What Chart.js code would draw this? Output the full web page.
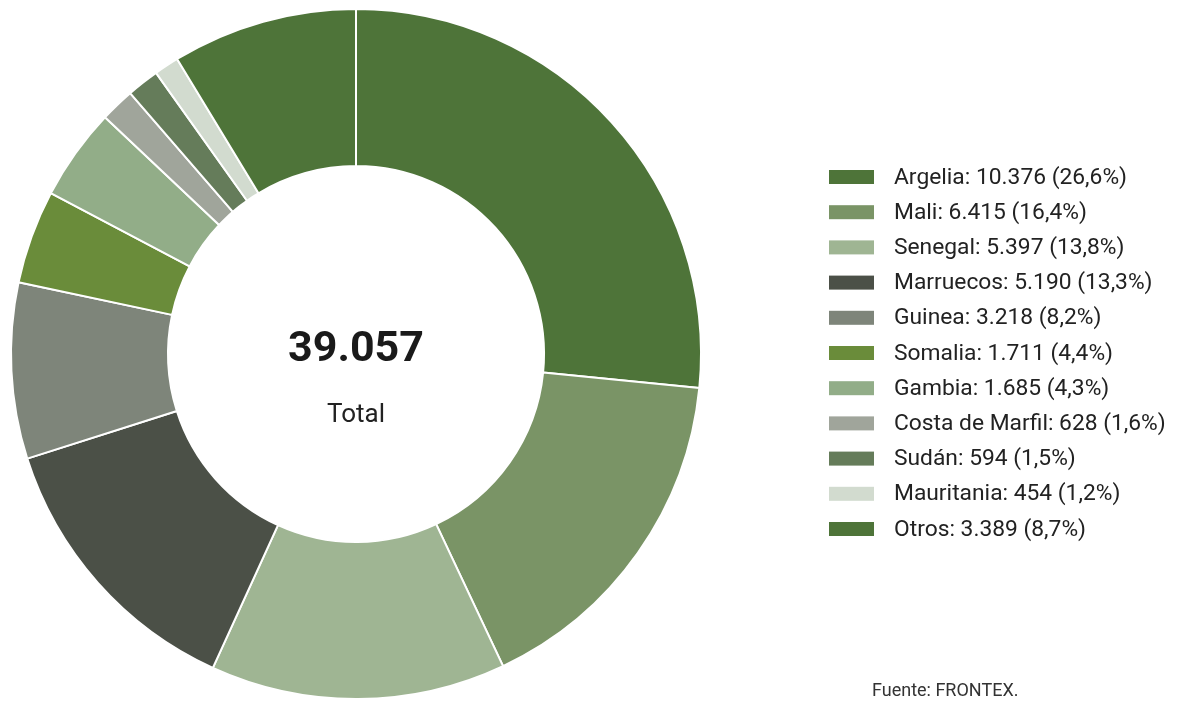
<!DOCTYPE html>
<html lang="es">
<head>
<meta charset="utf-8">
<title>Nacionalidades - FRONTEX</title>
<script src="https://cdn.jsdelivr.net/npm/chart.js@4.4.1/dist/chart.umd.min.js"></script>
<style>
  html, body { margin: 0; padding: 0; background: #ffffff; }
  #wrap { position: relative; width: 1181px; height: 701px; }
  #source { position: absolute; left: 872px; top: 679px; font: 18px Roboto, sans-serif; color: #333; }
</style>
</head>
<body>
<div id="wrap">
  <canvas id="chartCanvas" width="1181" height="701"></canvas>
  <div id="source">Fuente: FRONTEX.</div>
</div>
<script>
// Countries and number of detections
const countries = ['Argelia', 'Mali', 'Senegal', 'Marruecos', 'Guinea', 'Somalia', 'Gambia', 'Costa de Marfil', 'Sudán', 'Mauritania', 'Otros'];
const counts = [10376, 6415, 5397, 5190, 3218, 1711, 1685, 628, 594, 454, 3389];
const shares = ['26,6', '16,4', '13,8', '13,3', '8,2', '4,4', '4,3', '1,6', '1,5', '1,2', '8,7'];
const sliceColors = ['#4e7439', '#7a9466', '#9fb593', '#4b5047', '#7e857a', '#6a8c3a', '#92ad88', '#a0a59b', '#657c5a', '#d2dbcf', '#4e7439'];

const total = counts.reduce((a, b) => a + b, 0);

// Spanish thousands separator
function fmt(n) {
    return n.toString().replace(/\B(?=(\d{3})+(?!\d))/g, '.');
}

// Total in the hole of the doughnut
const centerText = {
    id: 'centerText',
    afterDraw(chart) {
        const arc = chart.getDatasetMeta(0).data[0];
        const ctx = chart.ctx;
        ctx.save();
        ctx.fillStyle = '#1a1a1a';
        ctx.textAlign = 'center';
        ctx.textBaseline = 'middle';
        ctx.font = 'bold 43px Roboto';
        ctx.fillText(fmt(total), arc.x, arc.y - 4);
        ctx.fillStyle = '#222';
        ctx.font = '26px Roboto';
        ctx.fillText('Total', arc.x, arc.y + 61);
        ctx.restore();
    }
};

// Legend list on the right side
const sideLegend = {
    id: 'sideLegend',
    afterDraw(chart) {
        const ctx = chart.ctx;
        ctx.save();
        ctx.textBaseline = 'middle';
        ctx.font = '22.8px Roboto';
        countries.forEach(function(name, i) {
            const y = 177 + i * 35.2;
            ctx.fillStyle = sliceColors[i];
            ctx.fillRect(829, y - 7, 45, 14);
            ctx.fillStyle = '#222';
            ctx.fillText(name + ': ' + fmt(counts[i]) + ' (' + shares[i] + '%)', 894, y + 1);
        });
        ctx.restore();
    }
};

var ctx = document.getElementById('chartCanvas').getContext('2d');
var donut = new Chart(ctx, {
    type: 'doughnut',
    data: {
        labels: countries,
        datasets: [{
            data: counts,
            backgroundColor: sliceColors,
            borderColor: '#ffffff',
            borderWidth: 2
        }]
    },
    options: {
        responsive: false,
        animation: false,
        cutout: '54.5%',
        layout: { padding: { left: 10, top: 8, right: 479, bottom: 1 } },
        plugins: {
            legend: { display: false },
            tooltip: { enabled: false }
        }
    },
    plugins: [centerText, sideLegend]
});
</script>
</body>
</html>
